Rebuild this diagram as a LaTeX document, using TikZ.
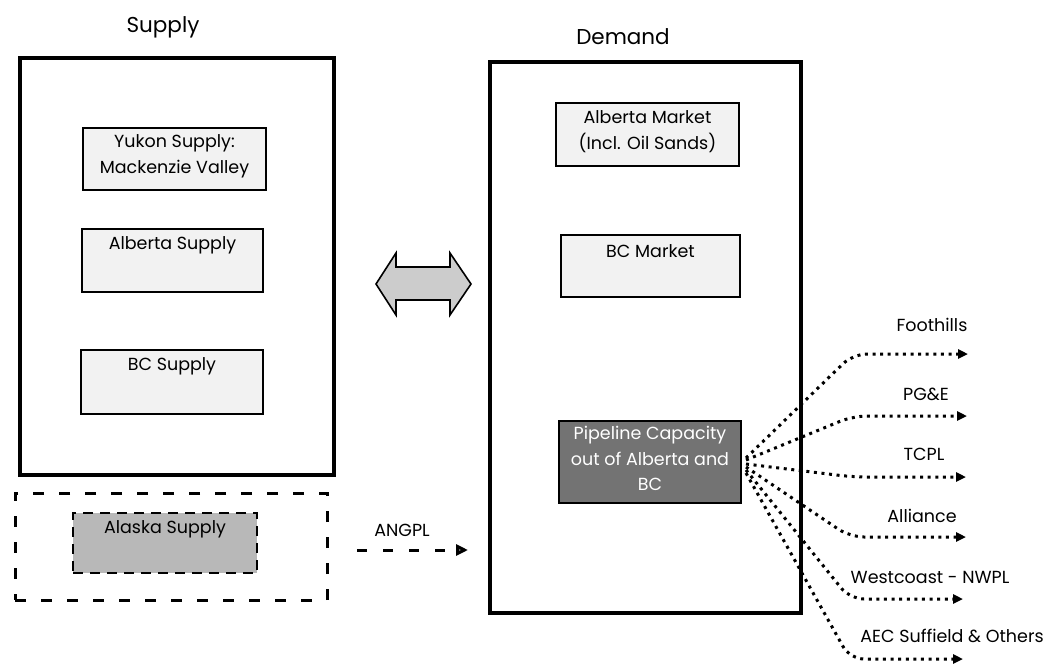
\documentclass[tikz,border=0pt]{standalone}
\usepackage{fontspec}
\setmainfont{Poppins}
\usetikzlibrary{arrows.meta}
\begin{document}
\begin{tikzpicture}[x=1pt,y=-1pt,
  frame/.style={draw=black, line width=3.2pt, inner sep=0pt},
  sbox/.style={draw=black, line width=2pt, fill=black!5, inner sep=0pt},
  lbl/.style={font=\fontsize{17.5}{26}\selectfont, align=center, inner sep=2pt},
  ttl/.style={font=\fontsize{21.5}{26}\selectfont},
  rlbl/.style={font=\fontsize{17.5}{21}\selectfont},
  fan/.style={line width=3pt, dash pattern=on 3pt off 4.6pt, rounded corners=14pt,
    -{Triangle[length=10pt,width=9pt]}},
]
\useasboundingbox (0,0) rectangle (1053,667);

% titles
\node[ttl] (tsup) at (163,27) {Supply};
\node[ttl] (tdem) at (623,37) {Demand};

% supply frame and boxes
\node[frame, minimum width=314pt, minimum height=417pt] (supply) at (177,266.5) {};
\node[sbox, minimum width=183pt, minimum height=62pt,
  label={[lbl,anchor=north,yshift=-5pt]north:{Yukon Supply:\\Mackenzie Valley}}] (yukon) at (174.5,159) {};
\node[sbox, minimum width=181pt, minimum height=63pt,
  label={[lbl,anchor=north,yshift=-6pt]north:{Alberta Supply}}] (absup) at (172.5,260.5) {};
\node[sbox, minimum width=182pt, minimum height=64pt,
  label={[lbl,anchor=north,yshift=-6pt]north:{BC Supply}}] (bcsup) at (172,382) {};

% Alaska
\node[draw=black, line width=3pt, dash pattern=on 11pt off 15pt,
  minimum width=312pt, minimum height=107pt, inner sep=0pt] (alouter) at (171,546.5) {};
\node[draw=black, line width=2.5pt, dash pattern=on 10pt off 7pt, fill=black!28,
  minimum width=184pt, minimum height=60pt, inner sep=0pt,
  label={[lbl,anchor=north,yshift=-7pt]north:{Alaska Supply}}] (alinner) at (165,543) {};

% ANGPL
\node[rlbl] (angpl) at (402,530) {ANGPL};
\coordinate (ang1) at (357,550);
\coordinate (ang2) at (468,550);
\draw[line width=3pt, dash pattern=on 10pt off 16pt,
  -{Triangle[length=12pt,width=11pt,fill=black!30]}] (ang1) -- (ang2);

% double arrow
\draw[line width=1.6pt, fill=black!20, line join=miter]
  (376,284) -- (396,253) -- (396,267) -- (450,267) -- (450,253) -- (471,284)
  -- (450,315) -- (450,300) -- (396,300) -- (396,315) -- cycle;

% demand frame and boxes
\node[frame, minimum width=311pt, minimum height=551pt] (demand) at (645.5,337.5) {};
\node[sbox, minimum width=183pt, minimum height=63pt,
  label={[lbl,anchor=north,yshift=-6pt]north:{Alberta Market\\(Incl. Oil Sands)}}] (abmkt) at (647.5,134.5) {};
\node[sbox, minimum width=179pt, minimum height=62pt,
  label={[lbl,anchor=north,yshift=-8pt]north:{BC Market}}] (bcmkt) at (650.5,266) {};
\node[sbox, fill=black!55, minimum width=182pt, minimum height=82pt,
  label={[lbl,anchor=north,yshift=-4pt,text=white,font=\fontsize{17.5}{25.5}\selectfont]north:{Pipeline Capacity\\out of Alberta and\\BC}}] (pipe) at (650,462) {};

% right labels
\node[rlbl] (lfh) at (932,325) {Foothills};
\node[rlbl] (lpg) at (926,394) {PG\&E};
\node[rlbl] (ltc) at (924,454) {TCPL};
\node[rlbl] (lal) at (922,516) {Alliance};
\node[rlbl] (lwc) at (930,577) {Westcoast - NWPL};
\node[rlbl] (lae) at (952,636) {AEC Suffield \& Others};

\coordinate (tfh) at (968,354);
\coordinate (tpg) at (967,416);
\coordinate (ttc) at (966,477);
\coordinate (tal) at (966,537);
\coordinate (twc) at (963,599);
\coordinate (tae) at (963,659);

\draw[fan] ([xshift=4pt,yshift=4pt]pipe.east) -- (853,354) -- (tfh);
\draw[fan] ([xshift=4pt,yshift=2pt]pipe.east) -- (853,416) -- (tpg);
\draw[fan] ([xshift=4pt,yshift=-2pt]pipe.east) -- (853,477) -- (ttc);
\draw[fan] ([xshift=4pt,yshift=-5pt]pipe.east) -- (850,537) -- (tal);
\draw[fan] ([xshift=4pt,yshift=-8pt]pipe.east) -- (850,599) -- (twc);
\draw[fan] ([xshift=4pt,yshift=-11pt]pipe.east) -- (850,659) -- (tae);
\end{tikzpicture}
\end{document}
